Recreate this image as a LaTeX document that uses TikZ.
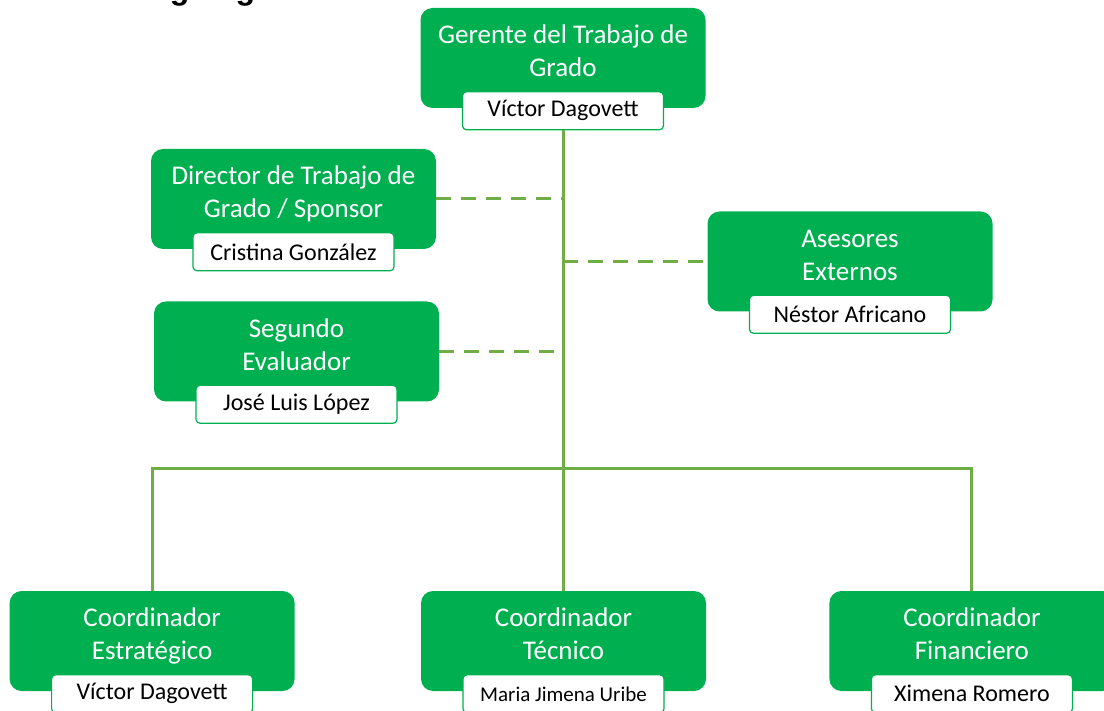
\documentclass[tikz,border=0pt]{standalone}
\usepackage{fontspec}
\setmainfont{Carlito}
\newfontfamily\titlefont{Liberation Sans}
\usetikzlibrary{positioning}
\definecolor{boxgreen}{HTML}{00B050}
\definecolor{linegreen}{HTML}{70AD47}

\begin{document}
\begin{tikzpicture}[x=1pt,y=-1pt,
	role/.style={fill=boxgreen, rounded corners=12pt, minimum width=285pt, minimum height=100pt, inner sep=0pt},
	roletext/.style={text=white, align=center, anchor=base, font=\fontsize{27}{33}\selectfont},
	person/.style={draw=boxgreen, line width=1.2pt, fill=white, rounded corners=4pt, minimum width=201pt, minimum height=38pt, inner sep=0pt, font=\fontsize{24}{28}\selectfont},
	solid link/.style={draw=linegreen, line width=3pt},
	dashed link/.style={draw=linegreen, line width=3pt, dash pattern=on 15pt off 10pt}]
	\useasboundingbox (0,0) rectangle (1104,711);
	\node[font=\titlefont\bfseries\fontsize{32}{36}\selectfont, anchor=base west] (title) at (129,0) {Organigrama};

	\node[role] (gerente) at (563,58) {};
	\node[role] (director) at (293.5,199) {};
	\node[role] (segundo) at (296.5,351.5) {};
	\node[role] (asesores) at (850,261.5) {};
	\node[role] (tecnico) at (563.5,641) {};
	\node[role, left=126pt of tecnico] (estrategico) {};
	\node[role, right=123pt of tecnico] (financiero) {};

	\node[roletext] (gerenteText) at ([yshift=-69pt]gerente.north) {Gerente del Trabajo de\\Grado};
	\node[roletext] (directorText) at ([yshift=-69pt]director.north) {Director de Trabajo de\\Grado / Sponsor};
	\node[roletext] (segundoText) at ([yshift=-69pt]segundo.north) {Segundo\\Evaluador};
	\node[roletext] (asesoresText) at ([yshift=-69pt]asesores.north) {Asesores\\Externos};
	\node[roletext] (estrategicoText) at ([yshift=-69pt]estrategico.north) {Coordinador\\Estratégico};
	\node[roletext] (tecnicoText) at ([yshift=-69pt]tecnico.north) {Coordinador\\Técnico};
	\node[roletext] (financieroText) at ([yshift=-69pt]financiero.north) {Coordinador\\Financiero};

	\node[person, below=-17pt of gerente] (gerenteName) {Víctor Dagovett};
	\node[person, below=-17pt of director] (directorName) {Cristina González};
	\node[person, below=-17pt of segundo] (segundoName) {José Luis López};
	\node[person, below=-17pt of asesores] (asesoresName) {Néstor Africano};
	\node[person, below=-17pt of estrategico] (estrategicoName) {Víctor Dagovett};
	\node[person, below=-17pt of tecnico, font=\fontsize{21}{25}\selectfont] (tecnicoName) {Maria Jimena Uribe};
	\node[person, below=-17pt of financiero] (financieroName) {Ximena Romero};

	\coordinate (hub) at (gerenteName.south |- 0,468);

	\path[solid link] (gerenteName.south) -- (gerenteName.south |- tecnico.north)
	(estrategico.north) |- (hub) -| (financiero.north);
	\path[dashed link] (director) -- (director -| gerenteName)
	(segundo) -- (segundo -| gerenteName)
	(asesores -| gerenteName) -- (asesores);
\end{tikzpicture}
\end{document}
